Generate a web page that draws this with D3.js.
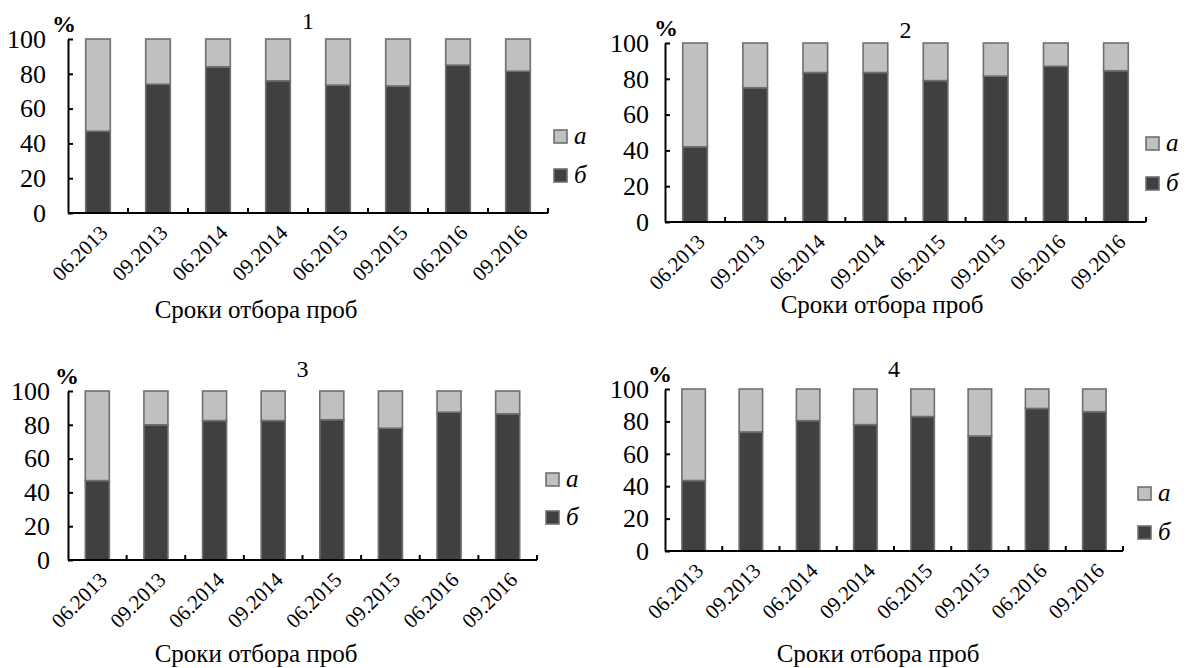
<!DOCTYPE html>
<html>
<head>
<meta charset="utf-8">
<script src="https://cdn.jsdelivr.net/npm/d3@7"></script>
<style>
  body { margin: 0; background: #fff; }
  svg text { font-family: "Liberation Serif", "Times New Roman", serif; fill: #000; }
</style>
</head>
<body>
<svg id="chart" width="1187" height="668"></svg>
<script>
'use strict'

// sampling dates
const categories = ['06.2013', '09.2013', '06.2014', '09.2014', '06.2015', '09.2015', '06.2016', '09.2016'];
const yTicks = [0, 20, 40, 60, 80, 100];
const seriesNames = ['а', 'б'];

// share of "б" (dark, bottom) and "а" (light, top), %
const bPanel1 = [47, 74, 84, 76, 73.5, 73, 85, 81.5];
const aPanel1 = [53, 26, 16, 24, 26.5, 27, 15, 18.5];
const bPanel2 = [42, 75, 83.5, 83.5, 79, 81.5, 87, 84.5];
const aPanel2 = [58, 25, 16.5, 16.5, 21, 18.5, 13, 15.5];
const bPanel3 = [47, 80, 82.5, 82.5, 83, 78, 87.5, 86.5];
const aPanel3 = [53, 20, 17.5, 17.5, 17, 22, 12.5, 13.5];
const bPanel4 = [43.5, 73.5, 80.5, 78, 83, 71, 88, 86];
const aPanel4 = [56.5, 26.5, 19.5, 22, 17, 29, 12, 14];

const panelTitles = ['1', '2', '3', '4'];
const xTitle = 'Сроки отбора проб';

const darkColor = '#404040';
const lightColor = '#c0c0c0';
const barStroke = '#6f6f6f';

// layout of each small chart
const panels = [
  { title: panelTitles[0], a: aPanel1, b: bPanel1, left: 68, right: 548, top: 39, bottom: 213, labelGap: 22, pctX: 52, legendX: 554, legendY: [137, 176], titleY: 29, xTitleX: 256, xTitleY: 318 },
  { title: panelTitles[1], a: aPanel2, b: bPanel2, left: 665, right: 1146, top: 43, bottom: 222, labelGap: 16, pctX: 654, legendX: 1146, legendY: [144, 184], titleY: 38, xTitleX: 882, xTitleY: 313 },
  { title: panelTitles[2], a: aPanel3, b: bPanel3, left: 68, right: 537, top: 391, bottom: 560, labelGap: 18, pctX: 55, legendX: 546, legendY: [480, 518], titleY: 377, xTitleX: 256, xTitleY: 662 },
  { title: panelTitles[3], a: aPanel4, b: bPanel4, left: 665, right: 1123, top: 389, bottom: 551, labelGap: 16, pctX: 648, legendX: 1138, legendY: [494, 533], titleY: 377, xTitleX: 878, xTitleY: 662 }
];

const svg = d3.select('#chart');

panels.forEach(p => drawPanel(p));

function drawPanel (p) {
  const g = svg.append('g');

  const x = d3.scaleBand()
    .domain(categories)
    .range([p.left, p.right])
    .paddingInner(0.59)
    .paddingOuter(0.295);

  const y = d3.scaleLinear()
    .domain([0, 100])
    .range([p.bottom, p.top]);

  // stacked bars: б at bottom, а on top
  const rows = categories.map((c, i) => ({ cat: c, a: p.a[i], b: p.b[i] }));
  const stack = d3.stack().keys(['b', 'a'])(rows);

  g.selectAll('g.layer')
    .data(stack)
    .enter().append('g')
      .attr('class', 'layer')
      .attr('fill', d => d.key === 'b' ? darkColor : lightColor)
    .selectAll('rect')
      .data(d => d)
    .enter().append('rect')
      .attr('x', d => x(d.data.cat))
      .attr('width', x.bandwidth())
      .attr('y', d => y(d[1]))
      .attr('height', d => y(d[0]) - y(d[1]))
      .attr('stroke', barStroke)
      .attr('stroke-width', 1.6);

  // y axis, ticks pointing inward
  const yAxis = g.append('g')
    .attr('transform', 'translate(' + p.left + ',0)')
    .call(d3.axisLeft(y).tickValues(yTicks).tickSizeInner(-5).tickSizeOuter(0).tickPadding(p.labelGap));
  yAxis.attr('font-family', null);
  yAxis.select('.domain').attr('stroke', '#000').attr('stroke-width', 2);
  yAxis.selectAll('.tick line').attr('stroke', '#000').attr('stroke-width', 2);
  yAxis.selectAll('.tick text')
    .attr('font-size', 26)
    .attr('fill', '#000');

  // x axis: line with inward ticks between categories
  g.append('line')
    .attr('x1', p.left).attr('x2', p.right)
    .attr('y1', p.bottom).attr('y2', p.bottom)
    .attr('stroke', '#000').attr('stroke-width', 2);

  const step = x.step();
  g.selectAll('line.xtick')
    .data(categories)
    .enter().append('line')
      .attr('class', 'xtick')
      .attr('x1', (d, i) => p.left + step * (i + 1))
      .attr('x2', (d, i) => p.left + step * (i + 1))
      .attr('y1', p.bottom)
      .attr('y2', p.bottom - 5)
      .attr('stroke', '#000').attr('stroke-width', 2);

  g.selectAll('text.xlabel')
    .data(categories)
    .enter().append('text')
      .attr('class', 'xlabel')
      .attr('text-anchor', 'end')
      .attr('font-size', 21)
      .attr('transform', d => 'translate(' + (x(d) + x.bandwidth() / 2 + 11) + ',' + (p.bottom + 21) + ') rotate(-45)')
      .text(d => d);

  g.append('text')
    .attr('x', p.xTitleX)
    .attr('y', p.xTitleY)
    .attr('text-anchor', 'middle')
    .attr('font-size', 25)
    .text(xTitle);

  // panel number and unit
  g.append('text')
    .attr('x', (p.left + p.right) / 2)
    .attr('y', p.titleY)
    .attr('text-anchor', 'middle')
    .attr('font-size', 24)
    .text(p.title);

  g.append('text')
    .attr('x', p.pctX)
    .attr('y', p.top - 7)
    .attr('font-size', 24)
    .attr('font-weight', 'bold')
    .text('%');

  // legend
  const legend = g.selectAll('g.legend')
    .data(seriesNames)
    .enter().append('g')
      .attr('class', 'legend')
      .attr('transform', (d, i) => 'translate(' + p.legendX + ',' + p.legendY[i] + ')');
  legend.append('rect')
    .attr('x', 0).attr('y', -7)
    .attr('width', 13).attr('height', 13)
    .attr('fill', (d, i) => i === 0 ? lightColor : darkColor)
    .attr('stroke', barStroke)
    .attr('stroke-width', 1.6);
  legend.append('text')
    .attr('x', 20)
    .attr('y', 7)
    .attr('font-size', 25)
    .attr('font-style', 'italic')
    .text(d => d);
}
</script>
</body>
</html>
